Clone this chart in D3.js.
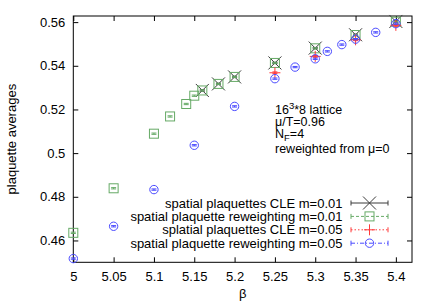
<!DOCTYPE html>
<html>
<head>
<meta charset="utf-8">
<script src="https://cdn.jsdelivr.net/npm/d3@7"></script>
<style>
  body { margin: 0; background: #fff; }
  svg { font-family: "Liberation Sans", Arial, sans-serif; font-size: 13px; }
</style>
</head>
<body>
<svg id="chart" width="436" height="305"></svg>
<script>
// data
const betaCLE01 = [5.16, 5.18, 5.2, 5.25, 5.3, 5.35, 5.4];
const plaqCLE01 = [0.5287, 0.5317, 0.5349, 0.5413, 0.5481, 0.5542, 0.5603];
const errCLE01 = [0.0003, 0.0003, 0.0003, 0.0003, 0.0003, 0.0003, 0.0003];

const betaRew01 = [5.0, 5.05, 5.1, 5.12, 5.14, 5.15, 5.16, 5.18, 5.2, 5.25, 5.3, 5.35, 5.4];
const plaqRew01 = [0.4635, 0.4839, 0.5089, 0.5168, 0.5225, 0.5263, 0.5287, 0.5317, 0.5349, 0.5413, 0.5480, 0.5541, 0.5602];
const errRew01 = [0.0003, 0.0003, 0.0003, 0.0003, 0.0003, 0.0003, 0.0003, 0.0003, 0.0003, 0.0003, 0.0003, 0.0003, 0.0003];

const betaCLE05 = [5.25, 5.3, 5.35, 5.4];
const plaqCLE05 = [0.5368, 0.5443, 0.5519, 0.5585];
const errCLE05 = [0.0004, 0.0004, 0.0004, 0.0004];

const betaRew05 = [5.0, 5.05, 5.1, 5.15, 5.2, 5.25, 5.275, 5.3, 5.315, 5.333, 5.35, 5.375, 5.4];
const plaqRew05 = [0.4517, 0.4665, 0.4833, 0.5036, 0.5214, 0.5341, 0.5394, 0.5432, 0.5466, 0.5497, 0.5522, 0.5553, 0.5593];
const errRew05 = [0.0003, 0.0003, 0.0003, 0.0003, 0.0003, 0.0003, 0.0003, 0.0003, 0.0003, 0.0003, 0.0003, 0.0003, 0.0003];

const xTicks = [5, 5.05, 5.1, 5.15, 5.2, 5.25, 5.3, 5.35, 5.4];
const yTicks = [0.46, 0.48, 0.5, 0.52, 0.54, 0.56];

const legendLabels = [
  "spatial plaquettes CLE m=0.01",
  "spatial plaquette reweighting m=0.01",
  "splatial plaquettes CLE m=0.05",
  "spatial plaquette reweighting m=0.05",
];

const series = [
  { beta: betaCLE01, val: plaqCLE01, err: errCLE01, symbol: "cross", color: "#3a3a3a", dash: null },
  { beta: betaRew01, val: plaqRew01, err: errRew01, symbol: "square", color: "#66aa66", dash: "3,2" },
  { beta: betaCLE05, val: plaqCLE05, err: errCLE05, symbol: "plus", color: "#ff3a3a", dash: "1.5,2" },
  { beta: betaRew05, val: plaqRew05, err: errRew05, symbol: "circle", color: "#4a4aff", dash: "4,2,1,2" },
];

const svg = d3.select("#chart");
const plot = { left: 73.3, right: 412, top: 16, bottom: 262.3 };

const x = d3.scaleLinear().domain([5, 5.42]).range([plot.left, plot.right]);
const y = d3.scaleLinear().domain([0.45, 0.5628]).range([plot.bottom, plot.top]);

const fmt = (d) => String(+d.toFixed(2));

// axes with inward ticks
svg.append("g")
  .attr("transform", `translate(0,${plot.bottom})`)
  .call(d3.axisBottom(x).tickValues(xTicks).tickFormat(fmt).tickSizeInner(-5).tickSizeOuter(0).tickPadding(9))
  .call((g) => g.select(".domain").remove())
  .call((g) => g.selectAll("text").attr("font-size", 13).attr("font-family", null).attr("fill", "#000"));

svg.append("g")
  .attr("transform", `translate(0,${plot.top})`)
  .call(d3.axisTop(x).tickValues(xTicks).tickFormat("").tickSizeInner(-5).tickSizeOuter(0))
  .call((g) => g.select(".domain").remove());

svg.append("g")
  .attr("transform", `translate(${plot.left},0)`)
  .call(d3.axisLeft(y).tickValues(yTicks).tickFormat(fmt).tickSizeInner(-5).tickSizeOuter(0).tickPadding(8))
  .call((g) => g.select(".domain").remove())
  .call((g) => g.selectAll("text").attr("font-size", 13).attr("font-family", null).attr("fill", "#000"));

svg.append("g")
  .attr("transform", `translate(${plot.right},0)`)
  .call(d3.axisRight(y).tickValues(yTicks).tickFormat("").tickSizeInner(-5).tickSizeOuter(0))
  .call((g) => g.select(".domain").remove());

// frame
svg.append("rect")
  .attr("x", plot.left).attr("y", plot.top)
  .attr("width", plot.right - plot.left).attr("height", plot.bottom - plot.top)
  .attr("fill", "none").attr("stroke", "#000").attr("stroke-width", 1);

// axis labels
svg.append("text")
  .attr("transform", `translate(16,${(plot.top + plot.bottom) / 2}) rotate(-90)`)
  .attr("text-anchor", "middle")
  .text("plaquette averages");

svg.append("text")
  .attr("x", (plot.left + plot.right) / 2).attr("y", 298)
  .attr("text-anchor", "middle")
  .text("β");

// annotation
const note = svg.append("g").attr("transform", "translate(275,0)").attr("font-size", 12.5);
const t1 = note.append("text").attr("y", 114);
t1.append("tspan").text("16");
t1.append("tspan").attr("dy", -5).attr("font-size", 9.5).text("3");
t1.append("tspan").attr("dy", 5).text("*8 lattice");
note.append("text").attr("y", 126).text("μ/T=0.96");
const t3 = note.append("text").attr("y", 137.5);
t3.append("tspan").text("N");
t3.append("tspan").attr("dy", 3.5).attr("font-size", 9.5).text("F");
t3.append("tspan").attr("dy", -3.5).text("=4");
note.append("text").attr("y", 152.5).text("reweighted from μ=0");

// symbols
function drawSymbol(g, kind, cx, cy, color) {
  if (kind === "cross") {
    const s = 6.5;
    g.append("path")
      .attr("d", `M${cx - s},${cy - s}L${cx + s},${cy + s}M${cx - s},${cy + s}L${cx + s},${cy - s}`)
      .attr("stroke", color).attr("stroke-width", 1).attr("fill", "none");
  } else if (kind === "square") {
    const s = 4.5;
    g.append("rect")
      .attr("x", cx - s).attr("y", cy - s).attr("width", 2 * s).attr("height", 2 * s)
      .attr("stroke", color).attr("stroke-width", 1).attr("fill", "none");
  } else if (kind === "plus") {
    const s = 5.5;
    g.append("path")
      .attr("d", `M${cx - s},${cy}L${cx + s},${cy}M${cx},${cy - s}L${cx},${cy + s}`)
      .attr("stroke", color).attr("stroke-width", 1).attr("fill", "none");
  } else {
    g.append("circle")
      .attr("cx", cx).attr("cy", cy).attr("r", 4.2)
      .attr("stroke", color).attr("stroke-width", 1).attr("fill", "none");
  }
}

// error bars + points
const pts = svg.append("g");
series.forEach((s) => {
  const g = pts.append("g");
  s.beta.forEach((b, i) => {
    const cx = x(b);
    const y0 = y(s.val[i] - s.err[i]);
    const y1 = y(s.val[i] + s.err[i]);
    g.append("path")
      .attr("d", `M${cx},${y0}L${cx},${y1}M${cx - 2.5},${y0}L${cx + 2.5},${y0}M${cx - 2.5},${y1}L${cx + 2.5},${y1}`)
      .attr("stroke", s.color).attr("stroke-width", 1).attr("fill", "none");
    drawSymbol(g, s.symbol, cx, y(s.val[i]), s.color);
  });
});

// legend
const legend = svg.append("g");
series.forEach((s, i) => {
  const ly = 203 + i * 13.4;
  legend.append("text")
    .attr("x", 342.5).attr("y", ly + 4.5)
    .attr("text-anchor", "end")
    .text(legendLabels[i]);
  legend.append("path")
    .attr("d", `M351,${ly}L388,${ly}`)
    .attr("stroke", s.color).attr("stroke-width", 1)
    .attr("stroke-dasharray", s.dash);
  legend.append("path")
    .attr("d", `M351,${ly - 2.5}L351,${ly + 2.5}M388,${ly - 2.5}L388,${ly + 2.5}`)
    .attr("stroke", s.color).attr("stroke-width", 1);
  drawSymbol(legend, s.symbol, 369.5, ly, s.color);
});
</script>
</body>
</html>
